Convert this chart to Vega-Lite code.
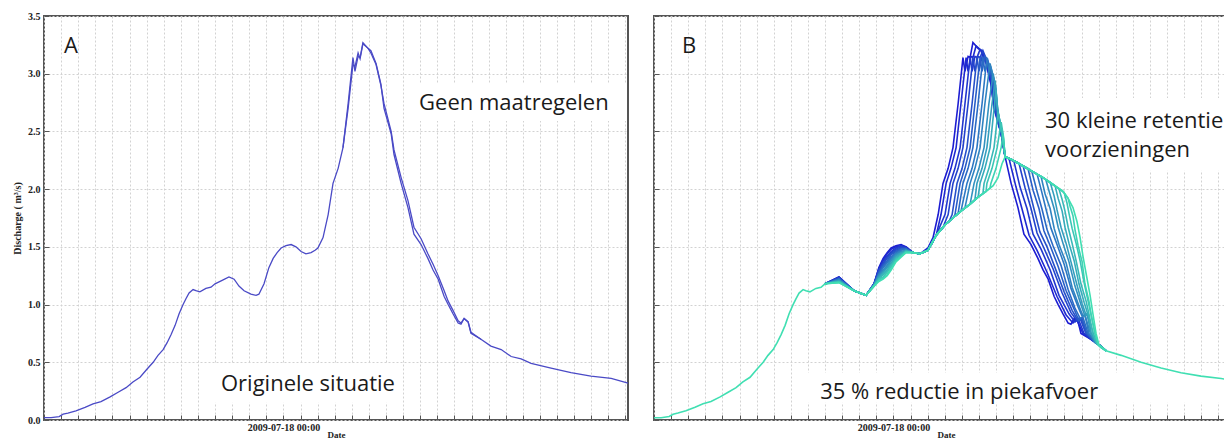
{
"$schema":"https://vega.github.io/schema/vega-lite/v6.json",
"background":"white",
"padding":{"left":11,"top":10,"right":0,"bottom":0},
"spacing":17,
"config":{
 "view":{"stroke":"#555555","strokeWidth":2},
 "axis":{"labelFont":"Liberation Serif","labelFontWeight":"bold","labelFontSize":10,"labelColor":"#222222","titleFont":"Liberation Serif","titleFontWeight":"bold","titleFontSize":10,"titleColor":"#222222","gridColor":"#d2d2d2","gridDash":[2,2],"domain":false,"ticks":true,"tickSize":-5,"tickColor":"#555555"}
},
"hconcat":[
{
 "width":584,"height":404,
 "layer":[
  {
   "data":{"values":[
    {"t":"2009-07-18T07:28","t2":"2009-07-18T20:05","q":2.91,"q2":2.59},
    {"t":"2009-07-17T19:28","t2":"2009-07-18T06:35","q":0.49,"q2":0.15}
   ],"format":{"parse":{"t":"date","t2":"date"}}},
   "mark":{"type":"rect","color":"white"},
   "encoding":{
    "x":{"field":"t","type":"temporal"},
    "x2":{"field":"t2"},
    "y":{"field":"q","type":"quantitative"},
    "y2":{"field":"q2"}
   }
  },
  {
   "data":{"values":[
{"s":"a","t":"2009-07-17T10:00","q":0.02},{"s":"a","t":"2009-07-17T10:25","q":0.02},{"s":"a","t":"2009-07-17T10:53","q":0.03},{"s":"a","t":"2009-07-17T11:07","q":0.05},{"s":"a","t":"2009-07-17T11:24","q":0.06},{"s":"a","t":"2009-07-17T11:52","q":0.08},{"s":"a","t":"2009-07-17T12:24","q":0.11},{"s":"a","t":"2009-07-17T12:52","q":0.14},{"s":"a","t":"2009-07-17T13:20","q":0.16},{"s":"a","t":"2009-07-17T13:52","q":0.20},{"s":"a","t":"2009-07-17T14:20","q":0.24},{"s":"a","t":"2009-07-17T14:48","q":0.28},{"s":"a","t":"2009-07-17T15:12","q":0.33},{"s":"a","t":"2009-07-17T15:37","q":0.37},{"s":"a","t":"2009-07-17T16:01","q":0.44},{"s":"a","t":"2009-07-17T16:23","q":0.50},{"s":"a","t":"2009-07-17T16:40","q":0.56},{"s":"a","t":"2009-07-17T16:58","q":0.61},{"s":"a","t":"2009-07-17T17:12","q":0.67},{"s":"a","t":"2009-07-17T17:26","q":0.74},{"s":"a","t":"2009-07-17T17:40","q":0.82},{"s":"a","t":"2009-07-17T17:54","q":0.92},{"s":"a","t":"2009-07-17T18:08","q":1.00},{"s":"a","t":"2009-07-17T18:18","q":1.05},{"s":"a","t":"2009-07-17T18:29","q":1.10},{"s":"a","t":"2009-07-17T18:43","q":1.13},{"s":"a","t":"2009-07-17T18:53","q":1.12},{"s":"a","t":"2009-07-17T19:07","q":1.11},{"s":"a","t":"2009-07-17T19:28","q":1.14},{"s":"a","t":"2009-07-17T19:46","q":1.15},{"s":"a","t":"2009-07-17T20:00","q":1.18},{"s":"a","t":"2009-07-17T20:25","q":1.21},{"s":"a","t":"2009-07-17T20:49","q":1.24},{"s":"a","t":"2009-07-17T21:07","q":1.22},{"s":"a","t":"2009-07-17T21:24","q":1.16},{"s":"a","t":"2009-07-17T21:42","q":1.12},{"s":"a","t":"2009-07-17T22:06","q":1.09},{"s":"a","t":"2009-07-17T22:24","q":1.08},{"s":"a","t":"2009-07-17T22:34","q":1.09},{"s":"a","t":"2009-07-17T22:52","q":1.18},{"s":"a","t":"2009-07-17T23:09","q":1.32},{"s":"a","t":"2009-07-17T23:24","q":1.40},{"s":"a","t":"2009-07-17T23:38","q":1.45},{"s":"a","t":"2009-07-17T23:52","q":1.49},{"s":"a","t":"2009-07-18T00:09","q":1.51},{"s":"a","t":"2009-07-18T00:27","q":1.52},{"s":"a","t":"2009-07-18T00:44","q":1.50},{"s":"a","t":"2009-07-18T01:02","q":1.46},{"s":"a","t":"2009-07-18T01:19","q":1.44},{"s":"a","t":"2009-07-18T01:37","q":1.45},{"s":"a","t":"2009-07-18T01:51","q":1.47},{"s":"a","t":"2009-07-18T02:01","q":1.49},{"s":"a","t":"2009-07-18T02:19","q":1.58},{"s":"a","t":"2009-07-18T02:37","q":1.78},{"s":"a","t":"2009-07-18T02:54","q":2.05},{"s":"a","t":"2009-07-18T03:12","q":2.18},{"s":"a","t":"2009-07-18T03:29","q":2.36},{"s":"a","t":"2009-07-18T03:47","q":2.74},{"s":"a","t":"2009-07-18T04:04","q":3.14},{"s":"a","t":"2009-07-18T04:11","q":3.02},{"s":"a","t":"2009-07-18T04:22","q":3.15},{"s":"a","t":"2009-07-18T04:29","q":3.14},{"s":"a","t":"2009-07-18T04:39","q":3.27},{"s":"a","t":"2009-07-18T04:57","q":3.22},{"s":"a","t":"2009-07-18T05:07","q":3.20},{"s":"a","t":"2009-07-18T05:25","q":3.09},{"s":"a","t":"2009-07-18T05:42","q":2.91},{"s":"a","t":"2009-07-18T05:53","q":2.70},{"s":"a","t":"2009-07-18T06:18","q":2.48},{"s":"a","t":"2009-07-18T06:28","q":2.30},{"s":"a","t":"2009-07-18T06:53","q":2.05},{"s":"a","t":"2009-07-18T07:17","q":1.84},{"s":"a","t":"2009-07-18T07:38","q":1.61},{"s":"a","t":"2009-07-18T08:03","q":1.52},{"s":"a","t":"2009-07-18T08:27","q":1.40},{"s":"a","t":"2009-07-18T08:45","q":1.30},{"s":"a","t":"2009-07-18T09:03","q":1.22},{"s":"a","t":"2009-07-18T09:24","q":1.07},{"s":"a","t":"2009-07-18T09:38","q":1.00},{"s":"a","t":"2009-07-18T09:55","q":0.92},{"s":"a","t":"2009-07-18T10:13","q":0.84},{"s":"a","t":"2009-07-18T10:23","q":0.83},{"s":"a","t":"2009-07-18T10:34","q":0.88},{"s":"a","t":"2009-07-18T10:48","q":0.85},{"s":"a","t":"2009-07-18T10:58","q":0.75},{"s":"a","t":"2009-07-18T11:33","q":0.70},{"s":"a","t":"2009-07-18T12:08","q":0.64},{"s":"a","t":"2009-07-18T12:44","q":0.61},{"s":"a","t":"2009-07-18T13:19","q":0.55},{"s":"a","t":"2009-07-18T13:54","q":0.53},{"s":"a","t":"2009-07-18T14:29","q":0.49},{"s":"a","t":"2009-07-18T15:39","q":0.45},{"s":"a","t":"2009-07-18T16:49","q":0.41},{"s":"a","t":"2009-07-18T17:59","q":0.38},{"s":"a","t":"2009-07-18T19:10","q":0.36},{"s":"a","t":"2009-07-18T20:09","q":0.32},
{"s":"b","t":"2009-07-18T03:29","q":2.36},{"s":"b","t":"2009-07-18T03:47","q":2.70},{"s":"b","t":"2009-07-18T04:04","q":3.08},{"s":"b","t":"2009-07-18T04:11","q":3.06},{"s":"b","t":"2009-07-18T04:22","q":3.18},{"s":"b","t":"2009-07-18T04:29","q":3.13},{"s":"b","t":"2009-07-18T04:39","q":3.26},{"s":"b","t":"2009-07-18T04:57","q":3.22},{"s":"b","t":"2009-07-18T05:07","q":3.18},{"s":"b","t":"2009-07-18T05:25","q":3.08},{"s":"b","t":"2009-07-18T05:42","q":2.90},{"s":"b","t":"2009-07-18T05:53","q":2.74},{"s":"b","t":"2009-07-18T06:18","q":2.50},{"s":"b","t":"2009-07-18T06:28","q":2.34},{"s":"b","t":"2009-07-18T06:53","q":2.10},{"s":"b","t":"2009-07-18T07:17","q":1.90},{"s":"b","t":"2009-07-18T07:38","q":1.67},{"s":"b","t":"2009-07-18T08:03","q":1.57},{"s":"b","t":"2009-07-18T08:27","q":1.44},{"s":"b","t":"2009-07-18T08:45","q":1.35},{"s":"b","t":"2009-07-18T09:03","q":1.25},{"s":"b","t":"2009-07-18T09:24","q":1.12},{"s":"b","t":"2009-07-18T09:38","q":1.03},{"s":"b","t":"2009-07-18T09:55","q":0.95},{"s":"b","t":"2009-07-18T10:13","q":0.86},{"s":"b","t":"2009-07-18T10:23","q":0.84},{"s":"b","t":"2009-07-18T10:34","q":0.88},{"s":"b","t":"2009-07-18T10:48","q":0.85},{"s":"b","t":"2009-07-18T10:58","q":0.76},{"s":"b","t":"2009-07-18T11:33","q":0.70}
   ]},
   "mark":{"type":"line","color":"#4a4ac6","strokeWidth":1.3},
   "encoding":{
    "x":{"field":"t","type":"temporal","scale":{"nice":false},
     "axis":{"title":"Date","tickCount":34,"grid":true,"labelPadding":7,"labelOverlap":false,"labelFlush":false,"titleFontSize":9,"titleBaseline":"bottom","titleY":19,"labelExpr":"timeFormat(datum.value, '%H:%M') == '00:00' ? timeFormat(datum.value, '%Y-%m-%d %H:%M') : ''"}},
    "y":{"field":"q","type":"quantitative","scale":{"domain":[0,3.5],"nice":false},
     "axis":{"values":[0,0.5,1,1.5,2,2.5,3,3.5],"format":".1f","labelPadding":9,"title":"Discharge ( m³/s)","titlePadding":5,"grid":true}},
    "detail":{"field":"s"}
   }
  },
  {
   "data":{"values":[
    {"t":"2009-07-17T11:10","q":3.24,"label":"A"},
    {"t":"2009-07-18T07:56","q":2.75,"label":"Geen maatregelen"},
    {"t":"2009-07-17T20:21","q":0.31,"label":"Originele situatie"}
   ]},
   "mark":{"type":"text","align":"left","baseline":"middle","font":"Open Sans","fontSize":22,"color":"#1a1a1a"},
   "encoding":{
    "x":{"field":"t","type":"temporal"},
    "y":{"field":"q","type":"quantitative"},
    "text":{"field":"label"}
   }
  }
 ]
},
{
 "width":584,"height":404,
 "layer":[
  {
   "data":{"values":[
    {"t":"2009-07-18T08:27","t2":"2009-07-18T20:05","q":2.79,"q2":2.16},
    {"t":"2009-07-17T19:00","t2":"2009-07-18T20:05","q":0.41,"q2":0.15}
   ],"format":{"parse":{"t":"date","t2":"date"}}},
   "mark":{"type":"rect","color":"white"},
   "encoding":{
    "x":{"field":"t","type":"temporal"},
    "x2":{"field":"t2"},
    "y":{"field":"q","type":"quantitative"},
    "y2":{"field":"q2"}
   }
  },
  {
   "data":{"values":[
{"s":0,"t":"2009-07-17T20:00","q":1.18},{"s":0,"t":"2009-07-17T20:49","q":1.24},{"s":0,"t":"2009-07-17T21:42","q":1.12},{"s":0,"t":"2009-07-17T22:24","q":1.08},{"s":0,"t":"2009-07-17T22:52","q":1.18},{"s":0,"t":"2009-07-17T23:09","q":1.32},{"s":0,"t":"2009-07-17T23:24","q":1.40},{"s":0,"t":"2009-07-17T23:38","q":1.45},{"s":0,"t":"2009-07-17T23:52","q":1.49},{"s":0,"t":"2009-07-18T00:09","q":1.51},{"s":0,"t":"2009-07-18T00:27","q":1.52},{"s":0,"t":"2009-07-18T00:44","q":1.50},{"s":0,"t":"2009-07-18T01:09","q":1.45},
{"s":0,"t":"2009-07-18T01:33","q":1.44},{"s":0,"t":"2009-07-18T02:01","q":1.49},{"s":0,"t":"2009-07-18T02:19","q":1.58},{"s":0,"t":"2009-07-18T02:37","q":1.78},{"s":0,"t":"2009-07-18T02:54","q":2.05},{"s":0,"t":"2009-07-18T03:12","q":2.18},{"s":0,"t":"2009-07-18T03:29","q":2.36},{"s":0,"t":"2009-07-18T03:47","q":2.74},{"s":0,"t":"2009-07-18T04:04","q":3.14},{"s":0,"t":"2009-07-18T04:11","q":3.02},{"s":0,"t":"2009-07-18T04:22","q":3.15},{"s":0,"t":"2009-07-18T04:29","q":3.14},{"s":0,"t":"2009-07-18T04:39","q":3.27},{"s":0,"t":"2009-07-18T04:57","q":3.22},{"s":0,"t":"2009-07-18T05:07","q":3.20},{"s":0,"t":"2009-07-18T05:25","q":3.09},{"s":0,"t":"2009-07-18T05:42","q":2.91},{"s":0,"t":"2009-07-18T05:53","q":2.70},{"s":0,"t":"2009-07-18T06:18","q":2.48},{"s":0,"t":"2009-07-18T06:32","q":2.28},
{"s":0,"t":"2009-07-18T06:53","q":2.05},{"s":0,"t":"2009-07-18T07:17","q":1.84},{"s":0,"t":"2009-07-18T07:38","q":1.61},{"s":0,"t":"2009-07-18T08:03","q":1.52},{"s":0,"t":"2009-07-18T08:27","q":1.40},{"s":0,"t":"2009-07-18T08:45","q":1.30},{"s":0,"t":"2009-07-18T09:03","q":1.22},{"s":0,"t":"2009-07-18T09:24","q":1.07},{"s":0,"t":"2009-07-18T09:38","q":1.00},{"s":0,"t":"2009-07-18T09:55","q":0.92},{"s":0,"t":"2009-07-18T10:13","q":0.84},{"s":0,"t":"2009-07-18T10:23","q":0.83},{"s":0,"t":"2009-07-18T10:34","q":0.88},{"s":0,"t":"2009-07-18T10:48","q":0.85},{"s":0,"t":"2009-07-18T10:58","q":0.75},{"s":0,"t":"2009-07-18T11:33","q":0.70},{"s":0,"t":"2009-07-18T12:08","q":0.64},{"s":0,"t":"2009-07-18T12:26","q":0.60},
{"s":1,"t":"2009-07-17T20:00","q":1.18},{"s":1,"t":"2009-07-17T20:49","q":1.24},{"s":1,"t":"2009-07-17T21:42","q":1.12},{"s":1,"t":"2009-07-17T22:24","q":1.08},{"s":1,"t":"2009-07-17T22:52","q":1.18},{"s":1,"t":"2009-07-17T23:09","q":1.31},{"s":1,"t":"2009-07-17T23:24","q":1.39},{"s":1,"t":"2009-07-17T23:38","q":1.44},{"s":1,"t":"2009-07-17T23:52","q":1.48},{"s":1,"t":"2009-07-18T00:09","q":1.50},{"s":1,"t":"2009-07-18T00:27","q":1.51},{"s":1,"t":"2009-07-18T00:44","q":1.50},{"s":1,"t":"2009-07-18T01:09","q":1.45},
{"s":1,"t":"2009-07-18T01:33","q":1.44},{"s":1,"t":"2009-07-18T02:01","q":1.47},{"s":1,"t":"2009-07-18T02:30","q":1.60},{"s":1,"t":"2009-07-18T02:47","q":1.78},{"s":1,"t":"2009-07-18T03:05","q":2.05},{"s":1,"t":"2009-07-18T03:22","q":2.18},{"s":1,"t":"2009-07-18T03:40","q":2.36},{"s":1,"t":"2009-07-18T03:57","q":2.74},{"s":1,"t":"2009-07-18T04:15","q":3.14},{"s":1,"t":"2009-07-18T04:22","q":3.02},{"s":1,"t":"2009-07-18T04:32","q":3.15},{"s":1,"t":"2009-07-18T04:39","q":3.14},{"s":1,"t":"2009-07-18T04:50","q":3.24},{"s":1,"t":"2009-07-18T05:00","q":3.22},{"s":1,"t":"2009-07-18T05:11","q":3.19},{"s":1,"t":"2009-07-18T05:28","q":3.08},{"s":1,"t":"2009-07-18T05:42","q":2.92},{"s":1,"t":"2009-07-18T05:53","q":2.71},{"s":1,"t":"2009-07-18T06:18","q":2.48},{"s":1,"t":"2009-07-18T06:32","q":2.28},
{"s":1,"t":"2009-07-18T06:46","q":2.26},{"s":1,"t":"2009-07-18T07:10","q":2.02},{"s":1,"t":"2009-07-18T07:31","q":1.83},{"s":1,"t":"2009-07-18T07:56","q":1.60},{"s":1,"t":"2009-07-18T08:24","q":1.47},{"s":1,"t":"2009-07-18T08:59","q":1.28},{"s":1,"t":"2009-07-18T09:34","q":1.07},{"s":1,"t":"2009-07-18T10:06","q":0.91},{"s":1,"t":"2009-07-18T10:30","q":0.84},{"s":1,"t":"2009-07-18T10:41","q":0.88},{"s":1,"t":"2009-07-18T11:05","q":0.75},{"s":1,"t":"2009-07-18T11:33","q":0.70},{"s":1,"t":"2009-07-18T12:08","q":0.64},{"s":1,"t":"2009-07-18T12:26","q":0.60},
{"s":2,"t":"2009-07-17T20:00","q":1.18},{"s":2,"t":"2009-07-17T20:49","q":1.23},{"s":2,"t":"2009-07-17T21:42","q":1.12},{"s":2,"t":"2009-07-17T22:24","q":1.08},{"s":2,"t":"2009-07-17T22:52","q":1.18},{"s":2,"t":"2009-07-17T23:09","q":1.30},{"s":2,"t":"2009-07-17T23:24","q":1.38},{"s":2,"t":"2009-07-17T23:38","q":1.42},{"s":2,"t":"2009-07-17T23:52","q":1.46},{"s":2,"t":"2009-07-18T00:09","q":1.49},{"s":2,"t":"2009-07-18T00:27","q":1.51},{"s":2,"t":"2009-07-18T00:44","q":1.49},{"s":2,"t":"2009-07-18T01:09","q":1.45},
{"s":2,"t":"2009-07-18T01:33","q":1.44},{"s":2,"t":"2009-07-18T02:01","q":1.47},{"s":2,"t":"2009-07-18T02:30","q":1.60},{"s":2,"t":"2009-07-18T03:01","q":1.78},{"s":2,"t":"2009-07-18T03:19","q":2.05},{"s":2,"t":"2009-07-18T03:36","q":2.18},{"s":2,"t":"2009-07-18T03:54","q":2.36},{"s":2,"t":"2009-07-18T04:11","q":2.74},{"s":2,"t":"2009-07-18T04:29","q":3.14},{"s":2,"t":"2009-07-18T04:36","q":3.02},{"s":2,"t":"2009-07-18T04:46","q":3.15},{"s":2,"t":"2009-07-18T04:53","q":3.14},{"s":2,"t":"2009-07-18T05:04","q":3.21},{"s":2,"t":"2009-07-18T05:11","q":3.20},{"s":2,"t":"2009-07-18T05:28","q":3.09},{"s":2,"t":"2009-07-18T05:46","q":2.91},{"s":2,"t":"2009-07-18T05:57","q":2.70},{"s":2,"t":"2009-07-18T06:18","q":2.48},{"s":2,"t":"2009-07-18T06:32","q":2.28},
{"s":2,"t":"2009-07-18T07:03","q":2.24},{"s":2,"t":"2009-07-18T07:24","q":2.02},{"s":2,"t":"2009-07-18T07:49","q":1.83},{"s":2,"t":"2009-07-18T08:10","q":1.61},{"s":2,"t":"2009-07-18T08:38","q":1.48},{"s":2,"t":"2009-07-18T09:10","q":1.30},{"s":2,"t":"2009-07-18T09:41","q":1.08},{"s":2,"t":"2009-07-18T10:16","q":0.92},{"s":2,"t":"2009-07-18T10:37","q":0.85},{"s":2,"t":"2009-07-18T10:48","q":0.88},{"s":2,"t":"2009-07-18T11:09","q":0.75},{"s":2,"t":"2009-07-18T11:37","q":0.69},{"s":2,"t":"2009-07-18T12:08","q":0.64},{"s":2,"t":"2009-07-18T12:26","q":0.60},
{"s":3,"t":"2009-07-17T20:00","q":1.18},{"s":3,"t":"2009-07-17T20:49","q":1.23},{"s":3,"t":"2009-07-17T21:42","q":1.12},{"s":3,"t":"2009-07-17T22:24","q":1.08},{"s":3,"t":"2009-07-17T22:52","q":1.18},{"s":3,"t":"2009-07-17T23:09","q":1.30},{"s":3,"t":"2009-07-17T23:24","q":1.36},{"s":3,"t":"2009-07-17T23:38","q":1.41},{"s":3,"t":"2009-07-17T23:52","q":1.45},{"s":3,"t":"2009-07-18T00:09","q":1.48},{"s":3,"t":"2009-07-18T00:27","q":1.50},{"s":3,"t":"2009-07-18T00:44","q":1.49},{"s":3,"t":"2009-07-18T01:09","q":1.45},
{"s":3,"t":"2009-07-18T01:33","q":1.44},{"s":3,"t":"2009-07-18T02:01","q":1.47},{"s":3,"t":"2009-07-18T02:30","q":1.60},{"s":3,"t":"2009-07-18T02:54","q":1.67},{"s":3,"t":"2009-07-18T03:12","q":1.78},{"s":3,"t":"2009-07-18T03:29","q":2.05},{"s":3,"t":"2009-07-18T03:47","q":2.18},{"s":3,"t":"2009-07-18T04:04","q":2.36},{"s":3,"t":"2009-07-18T04:22","q":2.74},{"s":3,"t":"2009-07-18T04:39","q":3.14},{"s":3,"t":"2009-07-18T04:46","q":3.02},{"s":3,"t":"2009-07-18T04:57","q":3.15},{"s":3,"t":"2009-07-18T05:04","q":3.14},{"s":3,"t":"2009-07-18T05:14","q":3.20},{"s":3,"t":"2009-07-18T05:32","q":3.09},{"s":3,"t":"2009-07-18T05:50","q":2.91},{"s":3,"t":"2009-07-18T05:57","q":2.70},{"s":3,"t":"2009-07-18T06:18","q":2.48},{"s":3,"t":"2009-07-18T06:32","q":2.28},
{"s":3,"t":"2009-07-18T07:00","q":2.25},{"s":3,"t":"2009-07-18T07:21","q":2.22},{"s":3,"t":"2009-07-18T07:42","q":2.01},{"s":3,"t":"2009-07-18T08:03","q":1.83},{"s":3,"t":"2009-07-18T08:24","q":1.62},{"s":3,"t":"2009-07-18T08:48","q":1.49},{"s":3,"t":"2009-07-18T09:20","q":1.31},{"s":3,"t":"2009-07-18T09:52","q":1.10},{"s":3,"t":"2009-07-18T10:23","q":0.93},{"s":3,"t":"2009-07-18T10:44","q":0.86},{"s":3,"t":"2009-07-18T10:55","q":0.88},{"s":3,"t":"2009-07-18T11:16","q":0.75},{"s":3,"t":"2009-07-18T11:40","q":0.69},{"s":3,"t":"2009-07-18T12:08","q":0.64},{"s":3,"t":"2009-07-18T12:26","q":0.60},
{"s":4,"t":"2009-07-17T20:00","q":1.18},{"s":4,"t":"2009-07-17T20:49","q":1.23},{"s":4,"t":"2009-07-17T21:42","q":1.12},{"s":4,"t":"2009-07-17T22:24","q":1.08},{"s":4,"t":"2009-07-17T22:52","q":1.17},{"s":4,"t":"2009-07-17T23:09","q":1.29},{"s":4,"t":"2009-07-17T23:24","q":1.35},{"s":4,"t":"2009-07-17T23:38","q":1.40},{"s":4,"t":"2009-07-17T23:52","q":1.44},{"s":4,"t":"2009-07-18T00:09","q":1.47},{"s":4,"t":"2009-07-18T00:27","q":1.49},{"s":4,"t":"2009-07-18T00:44","q":1.49},{"s":4,"t":"2009-07-18T01:09","q":1.45},
{"s":4,"t":"2009-07-18T01:33","q":1.44},{"s":4,"t":"2009-07-18T02:01","q":1.47},{"s":4,"t":"2009-07-18T02:30","q":1.60},{"s":4,"t":"2009-07-18T03:01","q":1.69},{"s":4,"t":"2009-07-18T03:15","q":1.72},{"s":4,"t":"2009-07-18T03:26","q":1.78},{"s":4,"t":"2009-07-18T03:43","q":2.05},{"s":4,"t":"2009-07-18T04:01","q":2.18},{"s":4,"t":"2009-07-18T04:18","q":2.36},{"s":4,"t":"2009-07-18T04:36","q":2.74},{"s":4,"t":"2009-07-18T04:53","q":3.14},{"s":4,"t":"2009-07-18T05:00","q":3.02},{"s":4,"t":"2009-07-18T05:11","q":3.15},{"s":4,"t":"2009-07-18T05:18","q":3.14},{"s":4,"t":"2009-07-18T05:28","q":3.11},{"s":4,"t":"2009-07-18T05:50","q":2.91},{"s":4,"t":"2009-07-18T05:57","q":2.70},{"s":4,"t":"2009-07-18T06:21","q":2.48},{"s":4,"t":"2009-07-18T06:32","q":2.28},
{"s":4,"t":"2009-07-18T07:00","q":2.25},{"s":4,"t":"2009-07-18T07:35","q":2.20},{"s":4,"t":"2009-07-18T07:56","q":2.00},{"s":4,"t":"2009-07-18T08:13","q":1.83},{"s":4,"t":"2009-07-18T08:34","q":1.63},{"s":4,"t":"2009-07-18T08:59","q":1.50},{"s":4,"t":"2009-07-18T09:27","q":1.32},{"s":4,"t":"2009-07-18T09:59","q":1.11},{"s":4,"t":"2009-07-18T10:27","q":0.95},{"s":4,"t":"2009-07-18T10:48","q":0.86},{"s":4,"t":"2009-07-18T10:58","q":0.88},{"s":4,"t":"2009-07-18T11:16","q":0.75},{"s":4,"t":"2009-07-18T11:40","q":0.69},{"s":4,"t":"2009-07-18T12:08","q":0.64},{"s":4,"t":"2009-07-18T12:26","q":0.60},
{"s":5,"t":"2009-07-17T20:00","q":1.18},{"s":5,"t":"2009-07-17T20:49","q":1.22},{"s":5,"t":"2009-07-17T21:42","q":1.12},{"s":5,"t":"2009-07-17T22:24","q":1.08},{"s":5,"t":"2009-07-17T22:52","q":1.17},{"s":5,"t":"2009-07-17T23:09","q":1.28},{"s":5,"t":"2009-07-17T23:24","q":1.34},{"s":5,"t":"2009-07-17T23:38","q":1.38},{"s":5,"t":"2009-07-17T23:52","q":1.43},{"s":5,"t":"2009-07-18T00:09","q":1.46},{"s":5,"t":"2009-07-18T00:27","q":1.48},{"s":5,"t":"2009-07-18T00:44","q":1.48},{"s":5,"t":"2009-07-18T01:09","q":1.45},
{"s":5,"t":"2009-07-18T01:33","q":1.44},{"s":5,"t":"2009-07-18T02:01","q":1.47},{"s":5,"t":"2009-07-18T02:30","q":1.60},{"s":5,"t":"2009-07-18T03:01","q":1.69},{"s":5,"t":"2009-07-18T03:29","q":1.75},{"s":5,"t":"2009-07-18T03:36","q":1.78},{"s":5,"t":"2009-07-18T03:54","q":2.05},{"s":5,"t":"2009-07-18T04:11","q":2.18},{"s":5,"t":"2009-07-18T04:29","q":2.36},{"s":5,"t":"2009-07-18T04:46","q":2.74},{"s":5,"t":"2009-07-18T05:04","q":3.14},{"s":5,"t":"2009-07-18T05:11","q":3.02},{"s":5,"t":"2009-07-18T05:21","q":3.15},{"s":5,"t":"2009-07-18T05:28","q":3.13},{"s":5,"t":"2009-07-18T05:39","q":3.05},{"s":5,"t":"2009-07-18T05:53","q":2.91},{"s":5,"t":"2009-07-18T06:00","q":2.70},{"s":5,"t":"2009-07-18T06:21","q":2.48},{"s":5,"t":"2009-07-18T06:32","q":2.28},
{"s":5,"t":"2009-07-18T07:00","q":2.25},{"s":5,"t":"2009-07-18T07:35","q":2.20},{"s":5,"t":"2009-07-18T07:52","q":2.18},{"s":5,"t":"2009-07-18T08:10","q":1.99},{"s":5,"t":"2009-07-18T08:31","q":1.83},{"s":5,"t":"2009-07-18T08:48","q":1.64},{"s":5,"t":"2009-07-18T09:10","q":1.51},{"s":5,"t":"2009-07-18T09:38","q":1.33},{"s":5,"t":"2009-07-18T10:06","q":1.12},{"s":5,"t":"2009-07-18T10:34","q":0.96},{"s":5,"t":"2009-07-18T10:51","q":0.86},{"s":5,"t":"2009-07-18T11:02","q":0.88},{"s":5,"t":"2009-07-18T11:19","q":0.75},{"s":5,"t":"2009-07-18T11:44","q":0.68},{"s":5,"t":"2009-07-18T12:08","q":0.64},{"s":5,"t":"2009-07-18T12:26","q":0.60},
{"s":6,"t":"2009-07-17T20:00","q":1.18},{"s":6,"t":"2009-07-17T20:49","q":1.22},{"s":6,"t":"2009-07-17T21:42","q":1.12},{"s":6,"t":"2009-07-17T22:24","q":1.08},{"s":6,"t":"2009-07-17T22:52","q":1.17},{"s":6,"t":"2009-07-17T23:09","q":1.27},{"s":6,"t":"2009-07-17T23:24","q":1.33},{"s":6,"t":"2009-07-17T23:38","q":1.37},{"s":6,"t":"2009-07-17T23:52","q":1.41},{"s":6,"t":"2009-07-18T00:09","q":1.45},{"s":6,"t":"2009-07-18T00:27","q":1.48},{"s":6,"t":"2009-07-18T00:44","q":1.48},{"s":6,"t":"2009-07-18T01:09","q":1.45},
{"s":6,"t":"2009-07-18T01:33","q":1.44},{"s":6,"t":"2009-07-18T02:01","q":1.47},{"s":6,"t":"2009-07-18T02:30","q":1.60},{"s":6,"t":"2009-07-18T03:01","q":1.69},{"s":6,"t":"2009-07-18T03:29","q":1.75},{"s":6,"t":"2009-07-18T03:47","q":1.79},{"s":6,"t":"2009-07-18T04:04","q":2.05},{"s":6,"t":"2009-07-18T04:22","q":2.18},{"s":6,"t":"2009-07-18T04:39","q":2.36},{"s":6,"t":"2009-07-18T04:57","q":2.74},{"s":6,"t":"2009-07-18T05:14","q":3.14},{"s":6,"t":"2009-07-18T05:21","q":3.02},{"s":6,"t":"2009-07-18T05:32","q":3.11},{"s":6,"t":"2009-07-18T05:53","q":2.91},{"s":6,"t":"2009-07-18T06:00","q":2.70},{"s":6,"t":"2009-07-18T06:21","q":2.48},{"s":6,"t":"2009-07-18T06:32","q":2.28},
{"s":6,"t":"2009-07-18T07:00","q":2.25},{"s":6,"t":"2009-07-18T07:35","q":2.20},{"s":6,"t":"2009-07-18T08:06","q":2.15},{"s":6,"t":"2009-07-18T08:24","q":1.98},{"s":6,"t":"2009-07-18T08:41","q":1.83},{"s":6,"t":"2009-07-18T08:59","q":1.65},{"s":6,"t":"2009-07-18T09:20","q":1.51},{"s":6,"t":"2009-07-18T09:48","q":1.34},{"s":6,"t":"2009-07-18T10:13","q":1.13},{"s":6,"t":"2009-07-18T10:37","q":0.97},{"s":6,"t":"2009-07-18T10:55","q":0.88},{"s":6,"t":"2009-07-18T11:05","q":0.89},{"s":6,"t":"2009-07-18T11:23","q":0.75},{"s":6,"t":"2009-07-18T11:44","q":0.68},{"s":6,"t":"2009-07-18T12:08","q":0.64},{"s":6,"t":"2009-07-18T12:26","q":0.60},
{"s":7,"t":"2009-07-17T20:00","q":1.18},{"s":7,"t":"2009-07-17T20:49","q":1.22},{"s":7,"t":"2009-07-17T21:42","q":1.12},{"s":7,"t":"2009-07-17T22:24","q":1.08},{"s":7,"t":"2009-07-17T22:52","q":1.17},{"s":7,"t":"2009-07-17T23:09","q":1.26},{"s":7,"t":"2009-07-17T23:24","q":1.32},{"s":7,"t":"2009-07-17T23:38","q":1.36},{"s":7,"t":"2009-07-17T23:52","q":1.40},{"s":7,"t":"2009-07-18T00:09","q":1.44},{"s":7,"t":"2009-07-18T00:27","q":1.47},{"s":7,"t":"2009-07-18T00:44","q":1.48},{"s":7,"t":"2009-07-18T01:09","q":1.45},
{"s":7,"t":"2009-07-18T01:33","q":1.44},{"s":7,"t":"2009-07-18T02:01","q":1.47},{"s":7,"t":"2009-07-18T02:30","q":1.60},{"s":7,"t":"2009-07-18T03:01","q":1.69},{"s":7,"t":"2009-07-18T03:29","q":1.75},{"s":7,"t":"2009-07-18T03:57","q":1.81},{"s":7,"t":"2009-07-18T04:18","q":2.05},{"s":7,"t":"2009-07-18T04:36","q":2.18},{"s":7,"t":"2009-07-18T04:53","q":2.36},{"s":7,"t":"2009-07-18T05:11","q":2.74},{"s":7,"t":"2009-07-18T05:28","q":3.14},{"s":7,"t":"2009-07-18T05:35","q":3.02},{"s":7,"t":"2009-07-18T05:42","q":3.05},{"s":7,"t":"2009-07-18T05:57","q":2.91},{"s":7,"t":"2009-07-18T06:04","q":2.70},{"s":7,"t":"2009-07-18T06:21","q":2.48},{"s":7,"t":"2009-07-18T06:32","q":2.28},
{"s":7,"t":"2009-07-18T07:00","q":2.25},{"s":7,"t":"2009-07-18T07:35","q":2.20},{"s":7,"t":"2009-07-18T08:10","q":2.15},{"s":7,"t":"2009-07-18T08:24","q":2.13},{"s":7,"t":"2009-07-18T08:41","q":1.97},{"s":7,"t":"2009-07-18T08:55","q":1.83},{"s":7,"t":"2009-07-18T09:13","q":1.66},{"s":7,"t":"2009-07-18T09:34","q":1.52},{"s":7,"t":"2009-07-18T09:59","q":1.35},{"s":7,"t":"2009-07-18T10:23","q":1.14},{"s":7,"t":"2009-07-18T10:48","q":0.98},{"s":7,"t":"2009-07-18T11:02","q":0.90},{"s":7,"t":"2009-07-18T11:12","q":0.91},{"s":7,"t":"2009-07-18T11:26","q":0.75},{"s":7,"t":"2009-07-18T11:47","q":0.68},{"s":7,"t":"2009-07-18T12:08","q":0.64},{"s":7,"t":"2009-07-18T12:26","q":0.60},
{"s":8,"t":"2009-07-17T20:00","q":1.18},{"s":8,"t":"2009-07-17T20:49","q":1.21},{"s":8,"t":"2009-07-17T21:42","q":1.12},{"s":8,"t":"2009-07-17T22:24","q":1.08},{"s":8,"t":"2009-07-17T22:52","q":1.17},{"s":8,"t":"2009-07-17T23:09","q":1.26},{"s":8,"t":"2009-07-17T23:24","q":1.30},{"s":8,"t":"2009-07-17T23:38","q":1.34},{"s":8,"t":"2009-07-17T23:52","q":1.39},{"s":8,"t":"2009-07-18T00:09","q":1.44},{"s":8,"t":"2009-07-18T00:27","q":1.46},{"s":8,"t":"2009-07-18T00:44","q":1.47},{"s":8,"t":"2009-07-18T01:09","q":1.45},
{"s":8,"t":"2009-07-18T01:33","q":1.44},{"s":8,"t":"2009-07-18T02:01","q":1.47},{"s":8,"t":"2009-07-18T02:30","q":1.60},{"s":8,"t":"2009-07-18T03:01","q":1.69},{"s":8,"t":"2009-07-18T03:29","q":1.75},{"s":8,"t":"2009-07-18T03:57","q":1.81},{"s":8,"t":"2009-07-18T04:11","q":1.84},{"s":8,"t":"2009-07-18T04:29","q":2.05},{"s":8,"t":"2009-07-18T04:46","q":2.18},{"s":8,"t":"2009-07-18T05:04","q":2.36},{"s":8,"t":"2009-07-18T05:21","q":2.74},{"s":8,"t":"2009-07-18T05:39","q":3.09},{"s":8,"t":"2009-07-18T05:57","q":2.91},{"s":8,"t":"2009-07-18T06:04","q":2.70},{"s":8,"t":"2009-07-18T06:21","q":2.48},{"s":8,"t":"2009-07-18T06:32","q":2.28},
{"s":8,"t":"2009-07-18T07:00","q":2.25},{"s":8,"t":"2009-07-18T07:35","q":2.20},{"s":8,"t":"2009-07-18T08:10","q":2.15},{"s":8,"t":"2009-07-18T08:38","q":2.11},{"s":8,"t":"2009-07-18T08:52","q":1.96},{"s":8,"t":"2009-07-18T09:10","q":1.83},{"s":8,"t":"2009-07-18T09:24","q":1.66},{"s":8,"t":"2009-07-18T09:41","q":1.52},{"s":8,"t":"2009-07-18T10:06","q":1.36},{"s":8,"t":"2009-07-18T10:27","q":1.15},{"s":8,"t":"2009-07-18T10:51","q":0.99},{"s":8,"t":"2009-07-18T11:05","q":0.90},{"s":8,"t":"2009-07-18T11:12","q":0.91},{"s":8,"t":"2009-07-18T11:30","q":0.76},{"s":8,"t":"2009-07-18T11:47","q":0.67},{"s":8,"t":"2009-07-18T12:08","q":0.64},{"s":8,"t":"2009-07-18T12:26","q":0.60},
{"s":9,"t":"2009-07-17T20:00","q":1.18},{"s":9,"t":"2009-07-17T20:49","q":1.21},{"s":9,"t":"2009-07-17T21:42","q":1.12},{"s":9,"t":"2009-07-17T22:24","q":1.08},{"s":9,"t":"2009-07-17T22:52","q":1.17},{"s":9,"t":"2009-07-17T23:09","q":1.25},{"s":9,"t":"2009-07-17T23:24","q":1.29},{"s":9,"t":"2009-07-17T23:38","q":1.33},{"s":9,"t":"2009-07-17T23:52","q":1.38},{"s":9,"t":"2009-07-18T00:09","q":1.43},{"s":9,"t":"2009-07-18T00:27","q":1.45},{"s":9,"t":"2009-07-18T00:44","q":1.47},{"s":9,"t":"2009-07-18T01:09","q":1.45},
{"s":9,"t":"2009-07-18T01:33","q":1.44},{"s":9,"t":"2009-07-18T02:01","q":1.47},{"s":9,"t":"2009-07-18T02:30","q":1.60},{"s":9,"t":"2009-07-18T03:01","q":1.69},{"s":9,"t":"2009-07-18T03:29","q":1.75},{"s":9,"t":"2009-07-18T03:57","q":1.81},{"s":9,"t":"2009-07-18T04:29","q":1.87},{"s":9,"t":"2009-07-18T04:43","q":2.05},{"s":9,"t":"2009-07-18T05:00","q":2.18},{"s":9,"t":"2009-07-18T05:18","q":2.36},{"s":9,"t":"2009-07-18T05:35","q":2.74},{"s":9,"t":"2009-07-18T05:50","q":3.00},{"s":9,"t":"2009-07-18T06:00","q":2.85},{"s":9,"t":"2009-07-18T06:07","q":2.66},{"s":9,"t":"2009-07-18T06:21","q":2.48},{"s":9,"t":"2009-07-18T06:32","q":2.28},
{"s":9,"t":"2009-07-18T07:00","q":2.25},{"s":9,"t":"2009-07-18T07:35","q":2.20},{"s":9,"t":"2009-07-18T08:10","q":2.15},{"s":9,"t":"2009-07-18T08:45","q":2.10},{"s":9,"t":"2009-07-18T08:55","q":2.08},{"s":9,"t":"2009-07-18T09:10","q":1.95},{"s":9,"t":"2009-07-18T09:24","q":1.83},{"s":9,"t":"2009-07-18T09:38","q":1.67},{"s":9,"t":"2009-07-18T09:55","q":1.53},{"s":9,"t":"2009-07-18T10:16","q":1.37},{"s":9,"t":"2009-07-18T10:37","q":1.16},{"s":9,"t":"2009-07-18T10:58","q":1.00},{"s":9,"t":"2009-07-18T11:12","q":0.90},{"s":9,"t":"2009-07-18T11:19","q":0.92},{"s":9,"t":"2009-07-18T11:33","q":0.76},{"s":9,"t":"2009-07-18T11:51","q":0.67},{"s":9,"t":"2009-07-18T12:08","q":0.64},{"s":9,"t":"2009-07-18T12:26","q":0.60},
{"s":10,"t":"2009-07-17T20:00","q":1.18},{"s":10,"t":"2009-07-17T20:49","q":1.21},{"s":10,"t":"2009-07-17T21:42","q":1.12},{"s":10,"t":"2009-07-17T22:24","q":1.08},{"s":10,"t":"2009-07-17T22:52","q":1.17},{"s":10,"t":"2009-07-17T23:09","q":1.24},{"s":10,"t":"2009-07-17T23:24","q":1.28},{"s":10,"t":"2009-07-17T23:38","q":1.32},{"s":10,"t":"2009-07-17T23:52","q":1.36},{"s":10,"t":"2009-07-18T00:09","q":1.42},{"s":10,"t":"2009-07-18T00:27","q":1.45},{"s":10,"t":"2009-07-18T00:44","q":1.47},{"s":10,"t":"2009-07-18T01:09","q":1.45},
{"s":10,"t":"2009-07-18T01:33","q":1.44},{"s":10,"t":"2009-07-18T02:01","q":1.47},{"s":10,"t":"2009-07-18T02:30","q":1.60},{"s":10,"t":"2009-07-18T03:01","q":1.69},{"s":10,"t":"2009-07-18T03:29","q":1.75},{"s":10,"t":"2009-07-18T03:57","q":1.81},{"s":10,"t":"2009-07-18T04:29","q":1.87},{"s":10,"t":"2009-07-18T04:46","q":1.91},{"s":10,"t":"2009-07-18T04:53","q":2.05},{"s":10,"t":"2009-07-18T05:11","q":2.18},{"s":10,"t":"2009-07-18T05:28","q":2.36},{"s":10,"t":"2009-07-18T05:46","q":2.74},{"s":10,"t":"2009-07-18T05:57","q":2.94},{"s":10,"t":"2009-07-18T06:04","q":2.72},{"s":10,"t":"2009-07-18T06:21","q":2.48},{"s":10,"t":"2009-07-18T06:32","q":2.28},
{"s":10,"t":"2009-07-18T07:00","q":2.25},{"s":10,"t":"2009-07-18T07:35","q":2.20},{"s":10,"t":"2009-07-18T08:10","q":2.15},{"s":10,"t":"2009-07-18T08:45","q":2.10},{"s":10,"t":"2009-07-18T09:10","q":2.06},{"s":10,"t":"2009-07-18T09:24","q":1.94},{"s":10,"t":"2009-07-18T09:34","q":1.82},{"s":10,"t":"2009-07-18T09:48","q":1.67},{"s":10,"t":"2009-07-18T10:06","q":1.53},{"s":10,"t":"2009-07-18T10:23","q":1.37},{"s":10,"t":"2009-07-18T10:44","q":1.17},{"s":10,"t":"2009-07-18T11:02","q":1.01},{"s":10,"t":"2009-07-18T11:16","q":0.91},{"s":10,"t":"2009-07-18T11:23","q":0.92},{"s":10,"t":"2009-07-18T11:33","q":0.75},{"s":10,"t":"2009-07-18T11:51","q":0.67},{"s":10,"t":"2009-07-18T12:08","q":0.64},{"s":10,"t":"2009-07-18T12:26","q":0.60},
{"s":11,"t":"2009-07-17T20:00","q":1.18},{"s":11,"t":"2009-07-17T20:49","q":1.20},{"s":11,"t":"2009-07-17T21:42","q":1.12},{"s":11,"t":"2009-07-17T22:24","q":1.08},{"s":11,"t":"2009-07-17T22:52","q":1.17},{"s":11,"t":"2009-07-17T23:09","q":1.23},{"s":11,"t":"2009-07-17T23:24","q":1.27},{"s":11,"t":"2009-07-17T23:38","q":1.30},{"s":11,"t":"2009-07-17T23:52","q":1.35},{"s":11,"t":"2009-07-18T00:09","q":1.41},{"s":11,"t":"2009-07-18T00:27","q":1.44},{"s":11,"t":"2009-07-18T00:44","q":1.46},{"s":11,"t":"2009-07-18T01:09","q":1.45},
{"s":11,"t":"2009-07-18T01:33","q":1.44},{"s":11,"t":"2009-07-18T02:01","q":1.47},{"s":11,"t":"2009-07-18T02:30","q":1.60},{"s":11,"t":"2009-07-18T03:01","q":1.69},{"s":11,"t":"2009-07-18T03:29","q":1.75},{"s":11,"t":"2009-07-18T03:57","q":1.81},{"s":11,"t":"2009-07-18T04:29","q":1.87},{"s":11,"t":"2009-07-18T04:57","q":1.93},{"s":11,"t":"2009-07-18T05:04","q":2.05},{"s":11,"t":"2009-07-18T05:21","q":2.18},{"s":11,"t":"2009-07-18T05:39","q":2.36},{"s":11,"t":"2009-07-18T06:00","q":2.86},{"s":11,"t":"2009-07-18T06:07","q":2.65},{"s":11,"t":"2009-07-18T06:21","q":2.48},{"s":11,"t":"2009-07-18T06:32","q":2.28},
{"s":11,"t":"2009-07-18T07:00","q":2.25},{"s":11,"t":"2009-07-18T07:35","q":2.20},{"s":11,"t":"2009-07-18T08:10","q":2.15},{"s":11,"t":"2009-07-18T08:45","q":2.10},{"s":11,"t":"2009-07-18T09:20","q":2.04},{"s":11,"t":"2009-07-18T09:27","q":2.03},{"s":11,"t":"2009-07-18T09:38","q":1.92},{"s":11,"t":"2009-07-18T09:52","q":1.81},{"s":11,"t":"2009-07-18T10:02","q":1.67},{"s":11,"t":"2009-07-18T10:16","q":1.53},{"s":11,"t":"2009-07-18T10:34","q":1.38},{"s":11,"t":"2009-07-18T10:51","q":1.18},{"s":11,"t":"2009-07-18T11:09","q":1.02},{"s":11,"t":"2009-07-18T11:23","q":0.91},{"s":11,"t":"2009-07-18T11:40","q":0.76},{"s":11,"t":"2009-07-18T11:54","q":0.66},{"s":11,"t":"2009-07-18T12:08","q":0.64},{"s":11,"t":"2009-07-18T12:26","q":0.60},
{"s":12,"t":"2009-07-17T20:00","q":1.18},{"s":12,"t":"2009-07-17T20:49","q":1.20},{"s":12,"t":"2009-07-17T21:42","q":1.12},{"s":12,"t":"2009-07-17T22:24","q":1.08},{"s":12,"t":"2009-07-17T22:52","q":1.16},{"s":12,"t":"2009-07-17T23:09","q":1.22},{"s":12,"t":"2009-07-17T23:24","q":1.26},{"s":12,"t":"2009-07-17T23:38","q":1.29},{"s":12,"t":"2009-07-17T23:52","q":1.34},{"s":12,"t":"2009-07-18T00:09","q":1.40},{"s":12,"t":"2009-07-18T00:27","q":1.43},{"s":12,"t":"2009-07-18T00:44","q":1.46},{"s":12,"t":"2009-07-18T01:09","q":1.45},
{"s":12,"t":"2009-07-18T01:33","q":1.44},{"s":12,"t":"2009-07-18T02:01","q":1.47},{"s":12,"t":"2009-07-18T02:30","q":1.60},{"s":12,"t":"2009-07-18T03:01","q":1.69},{"s":12,"t":"2009-07-18T03:29","q":1.75},{"s":12,"t":"2009-07-18T03:57","q":1.81},{"s":12,"t":"2009-07-18T04:29","q":1.87},{"s":12,"t":"2009-07-18T04:57","q":1.93},{"s":12,"t":"2009-07-18T05:14","q":1.96},{"s":12,"t":"2009-07-18T05:18","q":2.05},{"s":12,"t":"2009-07-18T05:35","q":2.18},{"s":12,"t":"2009-07-18T05:53","q":2.36},{"s":12,"t":"2009-07-18T06:07","q":2.67},{"s":12,"t":"2009-07-18T06:25","q":2.46},{"s":12,"t":"2009-07-18T06:32","q":2.28},
{"s":12,"t":"2009-07-18T07:00","q":2.25},{"s":12,"t":"2009-07-18T07:35","q":2.20},{"s":12,"t":"2009-07-18T08:10","q":2.15},{"s":12,"t":"2009-07-18T08:45","q":2.10},{"s":12,"t":"2009-07-18T09:20","q":2.04},{"s":12,"t":"2009-07-18T09:41","q":2.00},{"s":12,"t":"2009-07-18T09:52","q":1.91},{"s":12,"t":"2009-07-18T10:02","q":1.81},{"s":12,"t":"2009-07-18T10:13","q":1.67},{"s":12,"t":"2009-07-18T10:27","q":1.53},{"s":12,"t":"2009-07-18T10:41","q":1.38},{"s":12,"t":"2009-07-18T10:58","q":1.18},{"s":12,"t":"2009-07-18T11:16","q":1.03},{"s":12,"t":"2009-07-18T11:26","q":0.92},{"s":12,"t":"2009-07-18T11:40","q":0.75},{"s":12,"t":"2009-07-18T11:54","q":0.66},{"s":12,"t":"2009-07-18T12:08","q":0.63},{"s":12,"t":"2009-07-18T12:26","q":0.60},
{"s":13,"t":"2009-07-17T20:00","q":1.18},{"s":13,"t":"2009-07-17T20:49","q":1.20},{"s":13,"t":"2009-07-17T21:42","q":1.12},{"s":13,"t":"2009-07-17T22:24","q":1.08},{"s":13,"t":"2009-07-17T22:52","q":1.16},{"s":13,"t":"2009-07-17T23:09","q":1.22},{"s":13,"t":"2009-07-17T23:24","q":1.24},{"s":13,"t":"2009-07-17T23:38","q":1.28},{"s":13,"t":"2009-07-17T23:52","q":1.33},{"s":13,"t":"2009-07-18T00:09","q":1.39},{"s":13,"t":"2009-07-18T00:27","q":1.42},{"s":13,"t":"2009-07-18T00:44","q":1.46},{"s":13,"t":"2009-07-18T01:09","q":1.45},
{"s":13,"t":"2009-07-18T01:33","q":1.44},{"s":13,"t":"2009-07-18T02:01","q":1.47},{"s":13,"t":"2009-07-18T02:30","q":1.60},{"s":13,"t":"2009-07-18T03:01","q":1.69},{"s":13,"t":"2009-07-18T03:29","q":1.75},{"s":13,"t":"2009-07-18T03:57","q":1.81},{"s":13,"t":"2009-07-18T04:29","q":1.87},{"s":13,"t":"2009-07-18T04:57","q":1.93},{"s":13,"t":"2009-07-18T05:25","q":1.98},{"s":13,"t":"2009-07-18T05:28","q":2.05},{"s":13,"t":"2009-07-18T05:46","q":2.18},{"s":13,"t":"2009-07-18T06:04","q":2.36},{"s":13,"t":"2009-07-18T06:18","q":2.58},{"s":13,"t":"2009-07-18T06:25","q":2.47},{"s":13,"t":"2009-07-18T06:32","q":2.28},
{"s":13,"t":"2009-07-18T07:00","q":2.25},{"s":13,"t":"2009-07-18T07:35","q":2.20},{"s":13,"t":"2009-07-18T08:10","q":2.15},{"s":13,"t":"2009-07-18T08:45","q":2.10},{"s":13,"t":"2009-07-18T09:20","q":2.04},{"s":13,"t":"2009-07-18T09:59","q":1.97},{"s":13,"t":"2009-07-18T10:09","q":1.88},{"s":13,"t":"2009-07-18T10:16","q":1.79},{"s":13,"t":"2009-07-18T10:27","q":1.66},{"s":13,"t":"2009-07-18T10:41","q":1.53},{"s":13,"t":"2009-07-18T10:55","q":1.38},{"s":13,"t":"2009-07-18T11:09","q":1.19},{"s":13,"t":"2009-07-18T11:23","q":1.03},{"s":13,"t":"2009-07-18T11:33","q":0.92},{"s":13,"t":"2009-07-18T11:47","q":0.75},{"s":13,"t":"2009-07-18T11:58","q":0.66},{"s":13,"t":"2009-07-18T12:08","q":0.63},{"s":13,"t":"2009-07-18T12:26","q":0.60},
{"s":14,"t":"2009-07-17T20:00","q":1.18},{"s":14,"t":"2009-07-17T20:49","q":1.19},{"s":14,"t":"2009-07-17T21:42","q":1.12},{"s":14,"t":"2009-07-17T22:24","q":1.08},{"s":14,"t":"2009-07-17T22:52","q":1.16},{"s":14,"t":"2009-07-17T23:09","q":1.21},{"s":14,"t":"2009-07-17T23:24","q":1.23},{"s":14,"t":"2009-07-17T23:38","q":1.26},{"s":14,"t":"2009-07-17T23:52","q":1.31},{"s":14,"t":"2009-07-18T00:09","q":1.38},{"s":14,"t":"2009-07-18T00:27","q":1.42},{"s":14,"t":"2009-07-18T00:44","q":1.45},{"s":14,"t":"2009-07-18T01:09","q":1.45},
{"s":14,"t":"2009-07-18T01:33","q":1.44},{"s":14,"t":"2009-07-18T02:01","q":1.47},{"s":14,"t":"2009-07-18T02:30","q":1.60},{"s":14,"t":"2009-07-18T03:01","q":1.69},{"s":14,"t":"2009-07-18T03:29","q":1.75},{"s":14,"t":"2009-07-18T03:57","q":1.81},{"s":14,"t":"2009-07-18T04:29","q":1.87},{"s":14,"t":"2009-07-18T04:57","q":1.93},{"s":14,"t":"2009-07-18T05:25","q":1.98},{"s":14,"t":"2009-07-18T05:39","q":2.01},{"s":14,"t":"2009-07-18T05:42","q":2.05},{"s":14,"t":"2009-07-18T06:00","q":2.18},{"s":14,"t":"2009-07-18T06:18","q":2.36},{"s":14,"t":"2009-07-18T06:25","q":2.48},{"s":14,"t":"2009-07-18T06:32","q":2.28},
{"s":14,"t":"2009-07-18T07:00","q":2.25},{"s":14,"t":"2009-07-18T07:35","q":2.20},{"s":14,"t":"2009-07-18T08:10","q":2.15},{"s":14,"t":"2009-07-18T08:45","q":2.10},{"s":14,"t":"2009-07-18T09:20","q":2.04},{"s":14,"t":"2009-07-18T09:55","q":1.98},{"s":14,"t":"2009-07-18T10:13","q":1.92},{"s":14,"t":"2009-07-18T10:20","q":1.85},{"s":14,"t":"2009-07-18T10:30","q":1.77},{"s":14,"t":"2009-07-18T10:37","q":1.65},{"s":14,"t":"2009-07-18T10:48","q":1.51},{"s":14,"t":"2009-07-18T11:02","q":1.37},{"s":14,"t":"2009-07-18T11:12","q":1.18},{"s":14,"t":"2009-07-18T11:26","q":1.03},{"s":14,"t":"2009-07-18T11:33","q":0.92},{"s":14,"t":"2009-07-18T11:47","q":0.75},{"s":14,"t":"2009-07-18T11:58","q":0.65},{"s":14,"t":"2009-07-18T12:08","q":0.63},{"s":14,"t":"2009-07-18T12:26","q":0.60},
{"s":15,"t":"2009-07-17T10:00","q":0.02},{"s":15,"t":"2009-07-17T10:25","q":0.02},{"s":15,"t":"2009-07-17T10:53","q":0.03},{"s":15,"t":"2009-07-17T11:07","q":0.05},{"s":15,"t":"2009-07-17T11:24","q":0.06},{"s":15,"t":"2009-07-17T11:52","q":0.08},{"s":15,"t":"2009-07-17T12:24","q":0.11},{"s":15,"t":"2009-07-17T12:52","q":0.14},{"s":15,"t":"2009-07-17T13:20","q":0.16},{"s":15,"t":"2009-07-17T13:52","q":0.20},{"s":15,"t":"2009-07-17T14:20","q":0.24},{"s":15,"t":"2009-07-17T14:48","q":0.28},{"s":15,"t":"2009-07-17T15:12","q":0.33},{"s":15,"t":"2009-07-17T15:37","q":0.37},{"s":15,"t":"2009-07-17T16:01","q":0.44},{"s":15,"t":"2009-07-17T16:23","q":0.50},{"s":15,"t":"2009-07-17T16:40","q":0.56},{"s":15,"t":"2009-07-17T16:58","q":0.61},{"s":15,"t":"2009-07-17T17:12","q":0.67},{"s":15,"t":"2009-07-17T17:26","q":0.74},{"s":15,"t":"2009-07-17T17:40","q":0.82},{"s":15,"t":"2009-07-17T17:54","q":0.92},{"s":15,"t":"2009-07-17T18:08","q":1.00},{"s":15,"t":"2009-07-17T18:18","q":1.05},{"s":15,"t":"2009-07-17T18:29","q":1.10},{"s":15,"t":"2009-07-17T18:43","q":1.13},{"s":15,"t":"2009-07-17T18:53","q":1.12},{"s":15,"t":"2009-07-17T19:07","q":1.11},{"s":15,"t":"2009-07-17T19:28","q":1.14},{"s":15,"t":"2009-07-17T19:46","q":1.15},
{"s":15,"t":"2009-07-17T20:00","q":1.18},{"s":15,"t":"2009-07-17T20:49","q":1.19},{"s":15,"t":"2009-07-17T21:42","q":1.12},{"s":15,"t":"2009-07-17T22:24","q":1.08},{"s":15,"t":"2009-07-17T22:52","q":1.16},{"s":15,"t":"2009-07-17T23:09","q":1.20},{"s":15,"t":"2009-07-17T23:24","q":1.22},{"s":15,"t":"2009-07-17T23:38","q":1.25},{"s":15,"t":"2009-07-17T23:52","q":1.30},{"s":15,"t":"2009-07-18T00:09","q":1.37},{"s":15,"t":"2009-07-18T00:27","q":1.41},{"s":15,"t":"2009-07-18T00:44","q":1.45},{"s":15,"t":"2009-07-18T01:09","q":1.45},
{"s":15,"t":"2009-07-18T01:33","q":1.44},{"s":15,"t":"2009-07-18T02:01","q":1.47},{"s":15,"t":"2009-07-18T02:30","q":1.60},{"s":15,"t":"2009-07-18T03:01","q":1.69},{"s":15,"t":"2009-07-18T03:29","q":1.75},{"s":15,"t":"2009-07-18T03:57","q":1.81},{"s":15,"t":"2009-07-18T04:29","q":1.87},{"s":15,"t":"2009-07-18T04:57","q":1.93},{"s":15,"t":"2009-07-18T05:25","q":1.98},{"s":15,"t":"2009-07-18T05:50","q":2.03},{"s":15,"t":"2009-07-18T06:07","q":2.10},{"s":15,"t":"2009-07-18T06:21","q":2.22},{"s":15,"t":"2009-07-18T06:32","q":2.28},
{"s":15,"t":"2009-07-18T07:00","q":2.25},{"s":15,"t":"2009-07-18T07:35","q":2.20},{"s":15,"t":"2009-07-18T08:10","q":2.15},{"s":15,"t":"2009-07-18T08:45","q":2.10},{"s":15,"t":"2009-07-18T09:20","q":2.04},{"s":15,"t":"2009-07-18T09:55","q":1.98},{"s":15,"t":"2009-07-18T10:13","q":1.92},{"s":15,"t":"2009-07-18T10:30","q":1.84},{"s":15,"t":"2009-07-18T10:44","q":1.72},{"s":15,"t":"2009-07-18T10:55","q":1.58},{"s":15,"t":"2009-07-18T11:05","q":1.42},{"s":15,"t":"2009-07-18T11:16","q":1.27},{"s":15,"t":"2009-07-18T11:30","q":1.08},{"s":15,"t":"2009-07-18T11:40","q":0.92},{"s":15,"t":"2009-07-18T11:51","q":0.75},{"s":15,"t":"2009-07-18T12:01","q":0.65},{"s":15,"t":"2009-07-18T12:26","q":0.60},{"s":15,"t":"2009-07-18T13:19","q":0.56},{"s":15,"t":"2009-07-18T14:29","q":0.50},{"s":15,"t":"2009-07-18T15:39","q":0.45},{"s":15,"t":"2009-07-18T16:49","q":0.41},{"s":15,"t":"2009-07-18T17:59","q":0.38},{"s":15,"t":"2009-07-18T19:10","q":0.36},{"s":15,"t":"2009-07-18T20:09","q":0.33}
   ]},
   "mark":{"type":"line","strokeWidth":1.6},
   "encoding":{
    "x":{"field":"t","type":"temporal","scale":{"nice":false},
     "axis":{"title":"Date","tickCount":34,"grid":true,"labelPadding":7,"labelOverlap":false,"labelFlush":false,"titleFontSize":9,"titleBaseline":"bottom","titleY":19,"labelExpr":"timeFormat(datum.value, '%H:%M') == '00:00' ? timeFormat(datum.value, '%Y-%m-%d %H:%M') : ''"}},
    "y":{"field":"q","type":"quantitative","scale":{"domain":[0,3.5],"nice":false},
     "axis":{"values":[0,0.5,1,1.5,2,2.5,3,3.5],"labels":false,"title":null,"grid":true}},
    "color":{"field":"s","type":"quantitative","scale":{"domain":[0,15],"range":["#1c1cd2","#40dfb2"],"interpolate":"rgb"},"legend":null}
   }
  },
  {
   "data":{"values":[
    {"t":"2009-07-17T11:38","q":3.24,"label":"B"},
    {"t":"2009-07-18T08:52","q":2.59,"label":"30 kleine retentie"},
    {"t":"2009-07-18T08:52","q":2.335,"label":"voorzieningen"},
    {"t":"2009-07-17T19:43","q":0.24,"label":"35 % reductie in piekafvoer"}
   ]},
   "mark":{"type":"text","align":"left","baseline":"middle","font":"Open Sans","fontSize":22,"color":"#1a1a1a"},
   "encoding":{
    "x":{"field":"t","type":"temporal"},
    "y":{"field":"q","type":"quantitative"},
    "text":{"field":"label"}
   }
  }
 ]
}
]
}
